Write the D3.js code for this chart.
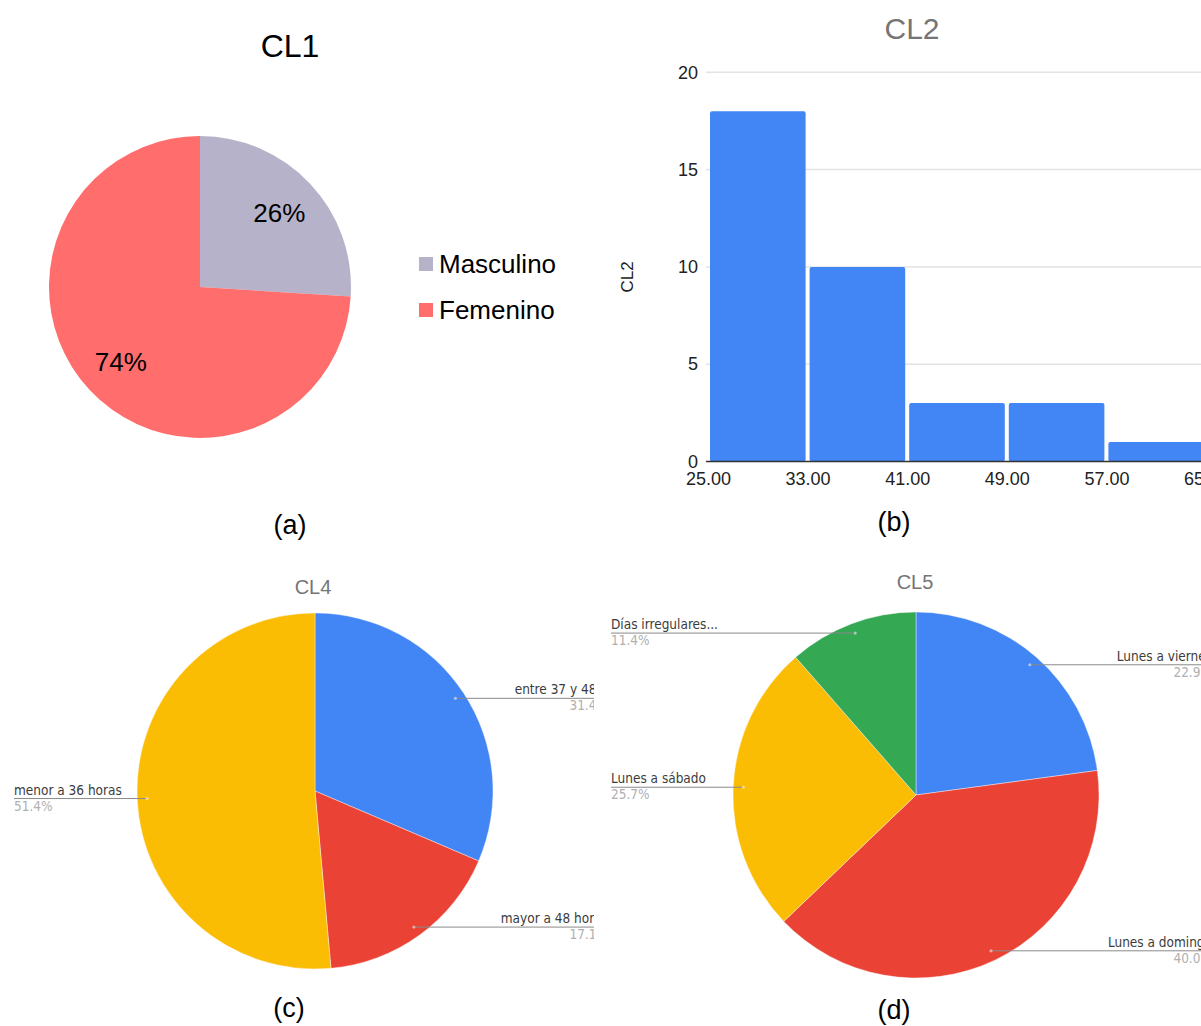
<!DOCTYPE html>
<html>
<head>
<meta charset="utf-8">
<script src="https://cdn.jsdelivr.net/npm/d3@7"></script>
<style>
  body { margin: 0; background: #fff; }
  svg { display: block; font-family: "Liberation Sans", Arial, sans-serif; }
  .lbl { font-family: "Liberation Sans Narrow", "DejaVu Sans Condensed", "Liberation Sans", sans-serif; font-stretch: condensed; }
</style>
</head>
<body>
<svg id="chart"></svg>
<script>
// CL1 - sexo
const cl1Labels = ["Masculino", "Femenino"];
const cl1Values = [26, 74];
const cl1Colors = ["#b6b2ca", "#ff6d6d"];

// CL2 - histograma de edad
const cl2BinEdges = [25, 33, 41, 49, 57, 65];
const cl2Counts = [18, 10, 3, 3, 1];
const cl2YTicks = [0, 5, 10, 15, 20];

// CL4 - horas semanales (etiqueta larga truncada como en el original)
const cl4Labels = ["entre 37 y 48...", "mayor a 48 horas", "menor a 36 horas"];
const cl4Values = [11, 6, 18];

// CL5 - dias de trabajo
const cl5Labels = ["Lunes a viernes", "Lunes a domingo", "Lunes a sábado", "Días irregulares..."];
const cl5Values = [8, 14, 9, 4];

const googleColors = ["#4285f4", "#ea4335", "#fbbc04", "#34a853"];

const width = 1201, height = 1026;
const svg = d3.select("#chart").attr("width", width).attr("height", height);

const pie = d3.pie().sort(null).value(d => d);
const pct = d3.format(".1%");

// ---------- (a) CL1 ----------
{
  const g = svg.append("g");
  const cx = 200, cy = 287, r = 151;

  g.append("text").attr("x", 290).attr("y", 57).attr("text-anchor", "middle")
    .attr("font-size", 32).attr("fill", "#000").text("CL1");

  const arcs = pie(cl1Values);
  const arc = d3.arc().innerRadius(0).outerRadius(r);
  const labelArc = d3.arc().innerRadius(r * 0.72).outerRadius(r * 0.72);
  const pg = g.append("g").attr("transform", `translate(${cx},${cy})`);

  pg.selectAll("path").data(arcs).enter().append("path")
    .attr("d", arc).attr("fill", (d, i) => cl1Colors[i]);

  pg.selectAll("text").data(arcs).enter().append("text")
    .attr("transform", d => {
      const [x, y] = labelArc.centroid(d);
      return `translate(${x},${y})`;
    })
    .attr("text-anchor", "middle").attr("dy", "0.35em")
    .attr("font-size", 26).attr("fill", "#000")
    .text(d => Math.round(d.value) + "%");

  const leg = g.append("g").attr("transform", "translate(419,257)");
  const items = leg.selectAll("g").data(cl1Labels).enter().append("g")
    .attr("transform", (d, i) => `translate(0,${i * 46})`);
  items.append("rect").attr("width", 14).attr("height", 14)
    .attr("fill", (d, i) => cl1Colors[i]);
  items.append("text").attr("x", 20).attr("y", 16)
    .attr("font-size", 26).attr("fill", "#000").text(d => d);

  g.append("text").attr("x", 290).attr("y", 534).attr("text-anchor", "middle")
    .attr("font-size", 27).text("(a)");
}

// ---------- (b) CL2 ----------
{
  const g = svg.append("g");
  const x = d3.scaleLinear().domain([25, 65]).range([708, 1206]);
  const y = d3.scaleLinear().domain([0, 20]).range([461.5, 72.3]);

  g.append("text").attr("x", 912).attr("y", 39).attr("text-anchor", "middle")
    .attr("font-size", 30).attr("fill", "#757575").text("CL2");

  // gridlines
  g.selectAll("line.grid").data(cl2YTicks.filter(t => t > 0)).enter().append("line")
    .attr("x1", 706).attr("x2", width)
    .attr("y1", d => y(d)).attr("y2", d => y(d))
    .attr("stroke", "#e3e3e3").attr("stroke-width", 1.5);

  const bins = cl2Counts.map((c, i) => ({ lo: cl2BinEdges[i], hi: cl2BinEdges[i + 1], c }));
  g.selectAll("rect.bar").data(bins).enter().append("rect")
    .attr("x", d => x(d.lo) + 2)
    .attr("width", d => x(d.hi) - x(d.lo) - 4)
    .attr("y", d => y(d.c))
    .attr("height", d => y(0) - y(d.c))
    .attr("rx", 2)
    .attr("fill", "#4285f4");

  // baseline
  g.append("line").attr("x1", 706).attr("x2", width)
    .attr("y1", y(0)).attr("y2", y(0)).attr("stroke", "#333").attr("stroke-width", 1.5);

  const yAxis = g.append("g").attr("transform", `translate(${x(25)},0)`)
    .call(d3.axisLeft(y).tickValues(cl2YTicks).tickSize(0).tickPadding(10));
  yAxis.select(".domain").remove();
  yAxis.selectAll("text").attr("font-size", 18).attr("fill", "#222")
    .attr("font-family", "'Liberation Sans', Arial, sans-serif");

  const xAxis = g.append("g").attr("transform", `translate(0,${y(0)})`)
    .call(d3.axisBottom(x).tickValues(cl2BinEdges).tickFormat(d3.format(".2f")).tickSize(0).tickPadding(11));
  xAxis.select(".domain").remove();
  xAxis.selectAll("text").attr("font-size", 18).attr("fill", "#222")
    .attr("font-family", "'Liberation Sans', Arial, sans-serif");

  g.append("text").attr("transform", "translate(633,277) rotate(-90)")
    .attr("text-anchor", "middle").attr("font-size", 17).attr("fill", "#222").text("CL2");

  g.append("text").attr("x", 894).attr("y", 531).attr("text-anchor", "middle")
    .attr("font-size", 27).text("(b)");
}

// ---------- Google-style pie with leader labels ----------
function googlePie(g, labels, values, cx, cy, r, leftX, rightX) {
  const total = d3.sum(values);
  const arcs = pie(values);
  const arc = d3.arc().innerRadius(0).outerRadius(r);

  g.append("g").attr("transform", `translate(${cx},${cy})`)
    .selectAll("path").data(arcs).enter().append("path")
    .attr("d", arc).attr("fill", (d, i) => googleColors[i])
    .attr("stroke", "#fff").attr("stroke-width", 0.4);

  arcs.forEach((d, i) => {
    const m = (d.startAngle + d.endAngle) / 2;
    const px = cx + Math.sin(m) * r * 0.945;
    const py = cy - Math.cos(m) * r * 0.945;
    const right = Math.sin(m) >= 0;
    const ex = right ? rightX : leftX;
    const anchor = right ? "end" : "start";

    g.append("line").attr("x1", px).attr("x2", ex).attr("y1", py).attr("y2", py)
      .attr("stroke", "#8a8a8a").attr("stroke-width", 1);
    g.append("circle").attr("cx", px).attr("cy", py).attr("r", 1.6)
      .attr("fill", "#fff").attr("opacity", 0.5);
    g.append("text").attr("class", "lbl").attr("x", ex).attr("y", py - 4)
      .attr("text-anchor", anchor).attr("font-size", 13.5).attr("fill", "#3c3c3c")
      .text(labels[i]);
    g.append("text").attr("class", "lbl").attr("x", ex).attr("y", py + 12)
      .attr("text-anchor", anchor).attr("font-size", 13.5).attr("fill", "#b0b0b0")
      .text(pct(values[i] / total));
  });
}

// ---------- (c) CL4 ----------
{
  svg.append("clipPath").attr("id", "clipC")
    .append("rect").attr("x", 0).attr("y", 560).attr("width", 594).attr("height", 420);
  const g = svg.append("g").attr("clip-path", "url(#clipC)");

  g.append("text").attr("x", 313).attr("y", 594).attr("text-anchor", "middle")
    .attr("font-size", 20).attr("fill", "#757575").text("CL4");

  googlePie(g, cl4Labels, cl4Values, 315, 791, 178, 14, 608);

  svg.append("text").attr("x", 289).attr("y", 1017).attr("text-anchor", "middle")
    .attr("font-size", 27).text("(c)");
}

// ---------- (d) CL5 ----------
{
  const g = svg.append("g");

  g.append("text").attr("x", 915).attr("y", 589).attr("text-anchor", "middle")
    .attr("font-size", 20).attr("fill", "#757575").text("CL5");

  googlePie(g, cl5Labels, cl5Values, 916, 795, 183, 611, 1212);

  svg.append("text").attr("x", 894).attr("y", 1019).attr("text-anchor", "middle")
    .attr("font-size", 27).text("(d)");
}
</script>
</body>
</html>
